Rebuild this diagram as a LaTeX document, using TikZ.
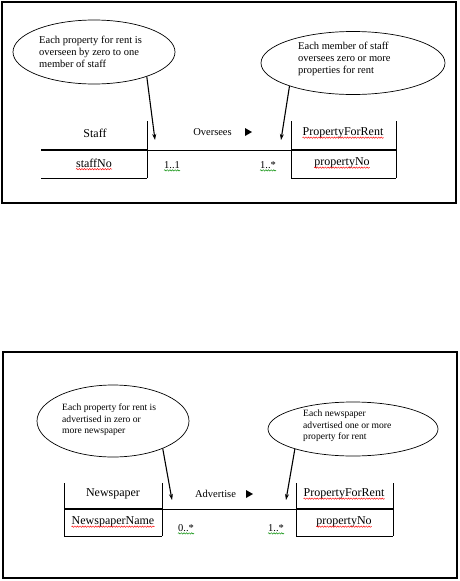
\documentclass[tikz,border=0pt]{standalone}
\usepackage{fontspec}
\setmainfont{Liberation Serif}
\usetikzlibrary{shapes.geometric,arrows.meta,decorations.pathmorphing}
\tikzset{
  frame/.style={draw=black,line width=1.8pt},
  bubble/.style={draw=black,line width=0.7pt,ellipse,inner sep=0pt},
  notetext/.style={anchor=north west,inner sep=0pt,align=left,font=\fontsize{10.5}{12.3}\selectfont},
  notetextsm/.style={anchor=north west,inner sep=0pt,align=left,font=\fontsize{9.6}{11.5}\selectfont},
  classtext/.style={inner sep=0pt,font=\fontsize{12}{13}\selectfont},
  labtext/.style={inner sep=0pt,font=\fontsize{10.5}{12}\selectfont},
  thinline/.style={draw=black,line width=0.9pt},
  thickline/.style={draw=black,line width=2pt},
  notearrow/.style={draw=black,line width=1.1pt,-{Stealth[length=6pt,width=4pt]}},
  wavyred/.style={draw=red,line width=0.45pt,decorate,decoration={snake,amplitude=0.7pt,segment length=2.6pt}},
  wavygreen/.style={draw=green!55!black,line width=0.45pt,decorate,decoration={snake,amplitude=0.7pt,segment length=2.6pt}},
}
\begin{document}
\begin{tikzpicture}[x=1pt,y=-1pt]
\useasboundingbox (0,0) rectangle (459,581);
\fill[white] (0,0) rectangle (459,581);
% ---------- top panel ----------
\draw[frame] (2,2) rectangle (456,203);
\node[bubble,minimum width=162,minimum height=64] (e1) at (94,52) {};
\node[bubble,minimum width=184,minimum height=63] (e2) at (353,63) {};
\node[notetext] (t1) at (39,35.5) {Each property for rent is\\overseen by zero to one\\member of staff};
\node[notetext] (t2) at (298,41.5) {Each member of staff\\oversees zero or more\\properties for rent};
% Staff class
\draw[thickline] (41,150) -- (147,150);
\draw[thinline] (147,121) -- (147,178);
\draw[thinline] (41,178) -- (147,178);
\node[classtext] (c1) at (95,133) {Staff};
\node[classtext] (c1a) at (94,163) {staffNo};
% PropertyForRent class
\draw[thinline] (291,121) -- (291,178);
\draw[thinline] (396,121) -- (396,178);
\draw[thickline] (291,150) -- (396,150);
\draw[thinline] (291,178) -- (396,178);
\node[classtext] (c2) at (343,133) {PropertyForRent};
\node[classtext] (c2a) at (342,163) {propertyNo};
% association
\coordinate (s1) at (147,150);
\coordinate (s2) at (291,150);
\draw[thinline] (s1) -- (s2);
\node[labtext] (r1) at (212.5,132) {Oversees};
\fill (245,128) -- (252,132) -- (245,136) -- cycle;
\node[labtext] (m1) at (172,165) {1..1};
\node[labtext] (m2) at (268,165) {1..*};
\coordinate (a1) at (155,140);
\coordinate (a2) at (281,140);
\draw[notearrow] (e1.-25) -- (a1);
\draw[notearrow] (e2.-160) -- (a2);
\draw[wavyred] ([yshift=-2pt]c1a.base west) -- ([yshift=-2pt]c1a.base east);
\draw[wavyred] ([yshift=-2pt]c2.base west) -- ([yshift=-2pt]c2.base east);
\draw[wavyred] ([yshift=-2pt]c2a.base west) -- ([yshift=-2pt]c2a.base east);
\draw[wavygreen] ([yshift=-2pt]m1.base west) -- ([yshift=-2pt]m1.base east);
\draw[wavygreen] ([yshift=-2pt]m2.base west) -- ([yshift=-2pt]m2.base east);
% ---------- bottom panel ----------
\draw[frame] (3,352) rectangle (457,578);
\node[bubble,minimum width=152,minimum height=72] (e3) at (113,421) {};
\node[bubble,minimum width=170,minimum height=54] (e4) at (353,429) {};
\node[notetextsm] (t3) at (62,403.8) {Each property for rent is\\advertised in zero or\\more newspaper};
\node[notetextsm] (t4) at (303,409.8) {Each newspaper\\advertised one or more\\property for rent};
% Newspaper class
\draw[thinline] (64,483) -- (64,536);
\draw[thinline] (162,483) -- (162,536);
\draw[thickline] (64,509) -- (162,509);
\draw[thinline] (64,536) -- (162,536);
\node[classtext] (c3) at (113,494) {Newspaper};
\node[classtext] (c3a) at (113,522) {NewspaperName};
% PropertyForRent class
\draw[thinline] (296,483) -- (296,536);
\draw[thinline] (393,483) -- (393,536);
\draw[thickline] (296,509) -- (393,509);
\draw[thinline] (296,536) -- (393,536);
\node[classtext] (c4) at (344,494) {PropertyForRent};
\node[classtext] (c4a) at (344,522) {propertyNo};
% association
\coordinate (s3) at (162,509);
\coordinate (s4) at (296,509);
\draw[thinline] (s3) -- (s4);
\node[labtext] (r2) at (215.5,494) {Advertise};
\fill (246,490) -- (253,494) -- (246,498) -- cycle;
\node[labtext] (m3) at (186,528) {0..*};
\node[labtext] (m4) at (276,528) {1..*};
\coordinate (a3) at (172,500);
\coordinate (a4) at (286,500);
\draw[notearrow] (e3.-29) -- (a3);
\draw[notearrow] (e4.-161) -- (a4);
\draw[wavyred] ([yshift=-2pt]c3a.base west) -- ([yshift=-2pt]c3a.base east);
\draw[wavyred] ([yshift=-2pt]c4.base west) -- ([yshift=-2pt]c4.base east);
\draw[wavyred] ([yshift=-2pt]c4a.base west) -- ([yshift=-2pt]c4a.base east);
\draw[wavygreen] ([yshift=-2pt]m3.base west) -- ([yshift=-2pt]m3.base east);
\draw[wavygreen] ([yshift=-2pt]m4.base west) -- ([yshift=-2pt]m4.base east);
\end{tikzpicture}
\end{document}
